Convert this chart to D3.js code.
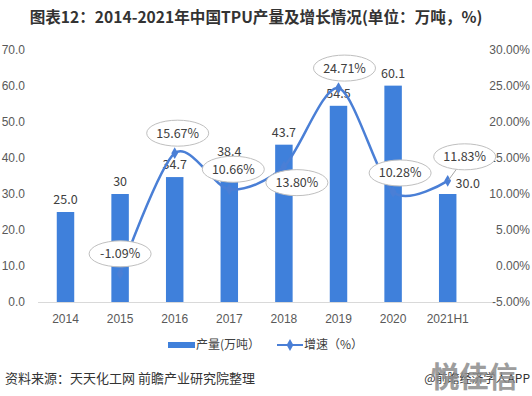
<!DOCTYPE html>
<html>
<head>
<meta charset="utf-8">
<script src="https://cdn.jsdelivr.net/npm/d3@7"></script>
<style>
body { margin: 0; background: #fff; }
svg { display: block; font-family: "Noto Sans CJK SC", "Noto Sans", sans-serif; }
</style>
</head>
<body>
<script>
var years = ["2014", "2015", "2016", "2017", "2018", "2019", "2020", "2021H1"];
var output = [25.0, 30, 34.7, 38.4, 43.7, 54.5, 60.1, 30.0];
var outputText = ["25.0", "30", "34.7", "38.4", "43.7", "54.5", "60.1", "30.0"];
var growthYears = ["2015", "2016", "2017", "2018", "2019", "2020", "2021H1"];
var growth = [-1.09, 15.67, 10.66, 13.80, 24.71, 10.28, 11.83];
var leftTicks = [0, 10, 20, 30, 40, 50, 60, 70];
var rightTicks = [-5, 0, 5, 10, 15, 20, 25, 30];

// where the callouts sit relative to their point (px)
var calloutOffset = [[0, -20], [3, -20], [4, -20], [13, 16], [6, -20], [7, -19], [17, -24]];

var W = 532, H = 396;
var plotTop = 50, plotBottom = 302;
var blue = "#3f80db", lineBlue = "#4a7fd6";

var svg = d3.select("body").append("svg")
    .attr("width", W)
    .attr("height", H);

var x = d3.scaleBand()
    .domain(years)
    .range([38.2, 475])
    .paddingInner(0.68)
    .paddingOuter(0.34);

var y = d3.scaleLinear().domain([0, 70]).range([plotBottom, plotTop]);
var y2 = d3.scaleLinear().domain([-5, 30]).range([plotBottom, plotTop]);

// title
svg.append("text")
    .attr("x", 256)
    .attr("y", 23)
    .attr("text-anchor", "middle")
    .style("font-size", "15.6px")
    .style("font-weight", "bold")
    .style("fill", "#333")
    .text("图表12：2014-2021年中国TPU产量及增长情况(单位：万吨，%)");

// left axis
svg.append("g")
    .attr("transform", "translate(25,0)")
    .call(d3.axisLeft(y).tickValues(leftTicks).tickSize(0).tickPadding(0).tickFormat(d3.format(".1f")))
    .call(function(g) { g.select(".domain").remove(); })
    .selectAll("text")
    .style("font-size", "12px")
    .style("fill", "#595959")
    .style("font-family", "inherit");

// right axis
svg.append("g")
    .attr("transform", "translate(530,0)")
    .call(d3.axisLeft(y2).tickValues(rightTicks).tickSize(0).tickPadding(0)
        .tickFormat(function(d) { return d.toFixed(2) + "%"; }))
    .call(function(g) { g.select(".domain").remove(); })
    .selectAll("text")
    .style("font-size", "12px")
    .style("fill", "#595959")
    .style("font-family", "inherit");

// x axis
svg.append("line")
    .attr("x1", 38).attr("x2", 492)
    .attr("y1", plotBottom + 0.5).attr("y2", plotBottom + 0.5)
    .attr("stroke", "#d9d9d9");

svg.append("g")
    .attr("transform", "translate(0," + plotBottom + ")")
    .call(d3.axisBottom(x).tickSize(0).tickPadding(12))
    .call(function(g) { g.select(".domain").remove(); })
    .selectAll("text")
    .style("font-size", "12px")
    .style("fill", "#595959")
    .style("font-family", "inherit");

// bars
svg.selectAll(".bar")
    .data(output)
    .enter().append("rect")
    .attr("class", "bar")
    .attr("x", function(d, i) { return x(years[i]); })
    .attr("y", function(d) { return y(d); })
    .attr("width", x.bandwidth())
    .attr("height", function(d) { return plotBottom - y(d); })
    .style("fill", blue);

svg.selectAll(".barlabel")
    .data(output)
    .enter().append("text")
    .attr("class", "barlabel")
    .attr("x", function(d, i) { return x(years[i]) + x.bandwidth() / 2 + (i == 7 ? 20 : 0); })
    .attr("y", function(d, i) { return y(d) - (i == 7 ? 6 : 8); })
    .attr("text-anchor", "middle")
    .style("font-size", "12.5px")
    .style("fill", "#404040")
    .text(function(d, i) { return outputText[i]; });

// growth line
function px(i) { return x(growthYears[i]) + x.bandwidth() / 2; }
function py(i) { return y2(growth[i]); }

var line = d3.line()
    .x(function(d, i) { return px(i); })
    .y(function(d, i) { return py(i); })
    .curve(d3.curveCardinal.tension(0.15));

svg.append("path")
    .datum(growth)
    .attr("d", line)
    .attr("fill", "none")
    .attr("stroke", lineBlue)
    .attr("stroke-width", 2.5);

var diamond = d3.symbol().type(d3.symbolDiamond).size(40);

svg.selectAll(".marker")
    .data(growth)
    .enter().append("path")
    .attr("class", "marker")
    .attr("d", diamond)
    .attr("transform", function(d, i) { return "translate(" + px(i) + "," + py(i) + ")"; })
    .style("fill", lineBlue);

// leader for the last callout
var last = growth.length - 1;
svg.append("line")
    .attr("x1", px(last) + 1).attr("y1", py(last) - 1)
    .attr("x2", px(last) + calloutOffset[last][0] - 8)
    .attr("y2", py(last) + calloutOffset[last][1] + 12)
    .attr("stroke", "#a6a6a6");

// callouts
var callout = svg.selectAll(".callout")
    .data(growth)
    .enter().append("g")
    .attr("class", "callout")
    .attr("transform", function(d, i) {
        return "translate(" + (px(i) + calloutOffset[i][0]) + "," + (py(i) + calloutOffset[i][1]) + ")";
    });

callout.append("ellipse")
    .attr("rx", 31)
    .attr("ry", 13)
    .style("fill", "#fff")
    .style("stroke", "#bfbfbf")
    .style("stroke-width", 1);

callout.append("text")
    .attr("text-anchor", "middle")
    .attr("dy", "0.36em")
    .style("font-size", "12.5px")
    .style("fill", "#404040")
    .text(function(d) { return d.toFixed(2) + "%"; });

// legend
var legend = svg.append("g").attr("transform", "translate(0,345)");

legend.append("rect")
    .attr("x", 168).attr("y", -3)
    .attr("width", 27).attr("height", 6)
    .style("fill", blue);

legend.append("text")
    .attr("x", 196).attr("dy", "0.36em")
    .style("font-size", "12px")
    .style("fill", "#404040")
    .text("产量(万吨）");

legend.append("line")
    .attr("x1", 277).attr("x2", 303)
    .attr("stroke", lineBlue)
    .attr("stroke-width", 2);

legend.append("path")
    .attr("d", diamond)
    .attr("transform", "translate(290,0)")
    .style("fill", lineBlue);

legend.append("text")
    .attr("x", 304).attr("dy", "0.36em")
    .style("font-size", "12px")
    .style("fill", "#404040")
    .text("增速（%）");

// footer
svg.append("text")
    .attr("x", 5).attr("y", 383)
    .style("font-size", "13px")
    .style("fill", "#333")
    .text("资料来源：天天化工网 前瞻产业研究院整理");

svg.append("text")
    .attr("x", 530).attr("y", 383)
    .attr("text-anchor", "end")
    .style("font-size", "12px")
    .style("fill", "#333")
    .text("@前瞻经济学人APP");

svg.append("text")
    .attr("x", 474).attr("y", 388)
    .attr("text-anchor", "middle")
    .style("font-size", "29px")
    .style("font-weight", "bold")
    .style("fill", "#8c8c8c")
    .style("opacity", 0.85)
    .text("悦佳信");
</script>
</body>
</html>
